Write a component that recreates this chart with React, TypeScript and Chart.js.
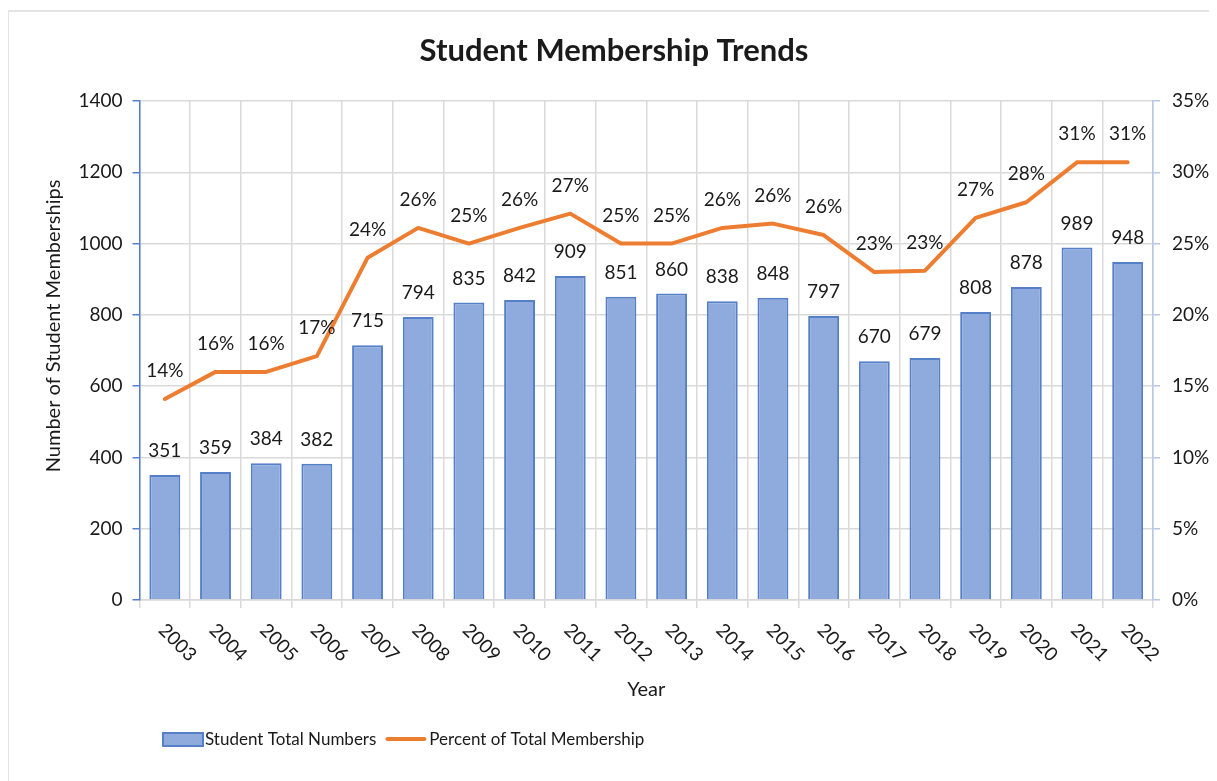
import React, { useEffect, useRef } from "react";
import { Chart, registerables } from "chart.js";

Chart.register(...registerables);

const years = ["2003","2004","2005","2006","2007","2008","2009","2010","2011","2012","2013","2014","2015","2016","2017","2018","2019","2020","2021","2022"];
const studentTotals = [351,359,384,382,715,794,835,842,909,851,860,838,848,797,670,679,808,878,989,948];
const percentOfTotal = [0.141,0.16,0.16,0.171,0.24,0.261,0.25,0.261,0.271,0.25,0.25,0.261,0.264,0.256,0.23,0.231,0.268,0.279,0.307,0.307];
const leftTicks = [0,200,400,600,800,1000,1200,1400];
const rightTicks = [0,0.05,0.1,0.15,0.2,0.25,0.3,0.35];

const chartTitle = "Student Membership Trends";
const yTitle = "Number of Student Memberships";
const xTitle = "Year";
const barLabel = "Student Total Numbers";
const lineLabel = "Percent of Total Membership";

const FONT = "Lato, 'Open Sans', sans-serif";
const TEXT = "#1a1a1a";
const BAR_FILL = "#8faadc";
const BAR_EDGE = "#5580c8";
const LINE = "#ed7d31";
const GRID = "#d9d9d9";

const W = 1209;
const H = 773;

const overlayPlugin = {
  id: "overlay",
  afterDatasetsDraw(chart: any) {
    const ctx = chart.ctx;
    const area = chart.chartArea;
    const xs = chart.scales.x;
    ctx.save();
    ctx.fillStyle = TEXT;

    // data labels
    ctx.font = `19px ${FONT}`;
    ctx.textAlign = "center";
    ctx.textBaseline = "middle";
    const barMeta = chart.getDatasetMeta(0);
    barMeta.data.forEach((el: any, i: number) => {
      ctx.fillText(String(studentTotals[i]), el.x, el.y - 24);
    });
    const lineMeta = chart.getDatasetMeta(1);
    lineMeta.data.forEach((el: any, i: number) => {
      ctx.fillText(Math.round(percentOfTotal[i] * 100) + "%", el.x, el.y - 28);
    });

    // x tick labels rotated clockwise
    ctx.font = `19px ${FONT}`;
    ctx.textAlign = "left";
    ctx.textBaseline = "middle";
    years.forEach((y, i) => {
      const px = xs.getPixelForValue(i);
      ctx.save();
      ctx.translate(px - 3, area.bottom + 27);
      ctx.rotate(Math.PI / 4);
      ctx.fillText(y, 0, 0);
      ctx.restore();
    });

    // title
    ctx.font = `bold 31px ${FONT}`;
    ctx.textAlign = "center";
    ctx.textBaseline = "middle";
    ctx.fillText(chartTitle, 606, 43);

    // x axis title
    ctx.font = `20px ${FONT}`;
    ctx.fillText(xTitle, (area.left + area.right) / 2, 682);

    // y axis title
    ctx.save();
    ctx.translate(46, 318);
    ctx.rotate(-Math.PI / 2);
    ctx.fillText(yTitle, 0, 0);
    ctx.restore();

    // legend
    ctx.font = `17px ${FONT}`;
    ctx.textAlign = "left";
    const ly = 731;
    ctx.fillStyle = BAR_FILL;
    ctx.fillRect(155, ly - 6, 40, 13);
    ctx.strokeStyle = BAR_EDGE;
    ctx.lineWidth = 2;
    ctx.strokeRect(155, ly - 6, 40, 13);
    ctx.fillStyle = TEXT;
    ctx.fillText(barLabel, 197, ly + 1);
    const t1 = ctx.measureText(barLabel).width;
    const s2 = 197 + t1 + 9;
    ctx.strokeStyle = LINE;
    ctx.lineWidth = 4;
    ctx.lineCap = "round";
    ctx.beginPath();
    ctx.moveTo(s2 + 2, ly);
    ctx.lineTo(s2 + 39, ly);
    ctx.stroke();
    ctx.fillText(lineLabel, s2 + 44, ly + 1);

    ctx.restore();
  },
};

export default function App() {
  const ref = useRef<HTMLCanvasElement | null>(null);

  useEffect(() => {
    if (!ref.current) return;
    const chart = new Chart(ref.current, {
      type: "bar",
      data: {
        labels: years,
        datasets: [
          {
            type: "bar",
            label: barLabel,
            data: studentTotals,
            backgroundColor: BAR_FILL,
            borderColor: BAR_EDGE,
            borderWidth: 2,
            barPercentage: 0.61,
            categoryPercentage: 1,
            yAxisID: "y",
            order: 1,
          },
          {
            type: "line",
            label: lineLabel,
            data: percentOfTotal,
            borderColor: LINE,
            backgroundColor: LINE,
            borderWidth: 4,
            pointRadius: 0,
            tension: 0,
            borderJoinStyle: "round",
            borderCapStyle: "round",
            yAxisID: "y1",
            order: 0,
          },
        ],
      } as any,
      options: {
        responsive: false,
        animation: false,
        devicePixelRatio: 1,
        layout: { padding: { top: 93, left: 0, right: 0, bottom: 0 } },
        plugins: {
          legend: { display: false },
          tooltip: { enabled: false },
          title: { display: false },
        },
        scales: {
          x: {
            type: "category",
            offset: true,
            grid: {
              offset: true,
              color: GRID,
              lineWidth: 1.5,
              drawTicks: true,
              tickLength: 8,
              tickColor: GRID,
            },
            border: { color: GRID, width: 1.5 },
            ticks: { display: false },
            afterFit(scale: any) {
              scale.height = 181;
            },
          },
          y: {
            position: "left",
            min: 0,
            max: 1400,
            afterBuildTicks(scale: any) {
              scale.ticks = leftTicks.map((v) => ({ value: v }));
            },
            grid: {
              color: GRID,
              lineWidth: 1.5,
              drawTicks: true,
              tickLength: 7,
              tickColor: "#5580c8",
            },
            border: { color: "#5580c8", width: 1.5 },
            ticks: {
              font: { family: FONT, size: 19 },
              color: TEXT,
              padding: 10,
              callback: (v: any) => String(v),
            },
            afterFit(scale: any) {
              scale.width = 131.5;
            },
          },
          y1: {
            position: "right",
            min: 0,
            max: 0.35,
            afterBuildTicks(scale: any) {
              scale.ticks = rightTicks.map((v) => ({ value: v }));
            },
            grid: {
              drawOnChartArea: false,
              drawTicks: true,
              tickLength: 7,
              tickColor: "#b4c7e7",
              lineWidth: 1.5,
            },
            border: { color: "#b4c7e7", width: 1.5 },
            ticks: {
              font: { family: FONT, size: 19 },
              color: TEXT,
              padding: 12,
              callback: (v: any) => Math.round(Number(v) * 100) + "%",
            },
            afterFit(scale: any) {
              scale.width = 64;
            },
          },
        },
      } as any,
      plugins: [overlayPlugin],
    });
    return () => chart.destroy();
  }, []);

  return (
    <div style={{ position: "relative", width: W, height: H }}>
      <div
        style={{
          position: "absolute",
          left: -1,
          top: 2,
          width: W + 1,
          height: H - 2,
          borderTop: "2px solid #e3e3e3",
          borderLeft: "2px solid #e3e3e3",
          boxSizing: "border-box",
        }}
      />
      <canvas
        ref={ref}
        width={W}
        height={H}
        style={{ position: "absolute", left: 0, top: 0, width: W, height: H }}
      />
    </div>
  );
}
